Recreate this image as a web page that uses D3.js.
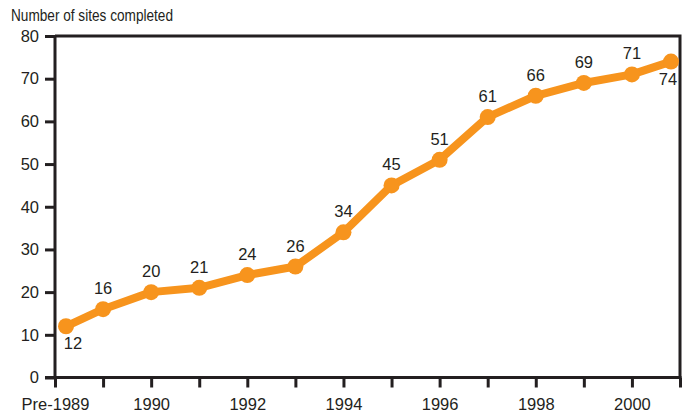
<!DOCTYPE html>
<html>
<head>
<meta charset="utf-8">
<script src="https://cdn.jsdelivr.net/npm/d3@7"></script>
<style>
  body { margin: 0; background: #fff; }
  text { font-family: "Liberation Sans", Arial, Helvetica, sans-serif; fill: #231f20; }
</style>
</head>
<body>
<div id="chart"></div>
<script>
// Chart data
const categories = ["Pre-1989", "1989", "1990", "1991", "1992", "1993", "1994",
  "1995", "1996", "1997", "1998", "1999", "2000", "2001"];
const sites = [12, 16, 20, 21, 24, 26, 34, 45, 51, 61, 66, 69, 71, 74];
const tickLabels = ["Pre-1989", "1990", "1992", "1994", "1996", "1998", "2000"];
const yTicks = [0, 10, 20, 30, 40, 50, 60, 70, 80];

const width = 683;
const height = 416;
const margin = { top: 36, right: 3, bottom: 38.5, left: 55 };

const svg = d3.select("#chart")
  .append("svg")
  .attr("width", width)
  .attr("height", height);

const x = d3.scalePoint()
  .domain(categories)
  .range([margin.left, width - margin.right]);

const y = d3.scaleLinear()
  .domain([0, 80])
  .range([height - margin.bottom, margin.top]);

const ink = "#231f20";
const orange = "#f7941d";

// Frame (top and right edges)
svg.append("path")
  .attr("d", `M${margin.left},${margin.top}H${width - margin.right}V${height - margin.bottom}`)
  .attr("fill", "none")
  .attr("stroke", ink)
  .attr("stroke-width", 3);

// Y axis
const yAxis = svg.append("g")
  .attr("transform", `translate(${margin.left},0)`)
  .call(d3.axisLeft(y).tickValues(yTicks).tickSize(10).tickPadding(6));
yAxis.select(".domain").attr("stroke", ink).attr("stroke-width", 3)
  .attr("d", `M0,${y(0)}V${y(80)}`);
yAxis.selectAll(".tick line").attr("stroke", ink).attr("stroke-width", 3);
yAxis.selectAll(".tick text").style("font-size", "16.5px").attr("fill", ink);

// X axis
const xAxis = svg.append("g")
  .attr("transform", `translate(0,${y(0)})`)
  .call(d3.axisBottom(x).tickSize(10).tickPadding(11)
    .tickFormat(d => tickLabels.includes(d) ? d : ""));
xAxis.select(".domain").attr("stroke", ink).attr("stroke-width", 3)
  .attr("d", `M${margin.left - 10},0H${width - margin.right + 1.5}`);
xAxis.selectAll(".tick line").attr("stroke", ink).attr("stroke-width", 3);
xAxis.selectAll(".tick text").style("font-size", "16.5px").attr("fill", ink);

// Axis title
svg.append("text")
  .attr("x", 11)
  .attr("y", 21)
  .style("font-size", "17px")
  .attr("textLength", 162)
  .attr("lengthAdjust", "spacingAndGlyphs")
  .text("Number of sites completed");

// Keep markers inside the frame
const cx = (d, i) => Math.min(Math.max(x(categories[i]), margin.left + 11), width - margin.right - 9);

const line = d3.line()
  .x((d, i) => cx(d, i))
  .y(d => y(d));

svg.append("path")
  .datum(sites)
  .attr("d", line)
  .attr("fill", "none")
  .attr("stroke", orange)
  .attr("stroke-width", 8)
  .attr("stroke-linejoin", "round");

svg.selectAll("circle.pt")
  .data(sites)
  .enter()
  .append("circle")
  .attr("class", "pt")
  .attr("cx", (d, i) => cx(d, i))
  .attr("cy", d => y(d))
  .attr("r", 8)
  .attr("fill", orange);

// Value labels (first and last go below the point)
svg.selectAll("text.val")
  .data(sites)
  .enter()
  .append("text")
  .attr("class", "val")
  .attr("x", (d, i) => cx(d, i) + (i === 0 ? 7 : (i === sites.length - 1 ? -3 : 0)))
  .attr("y", (d, i) => (i === 0 || i === sites.length - 1) ? y(d) + 23 : y(d) - 15)
  .attr("text-anchor", "middle")
  .style("font-size", "16.5px")
  .text(d => d);
</script>
</body>
</html>
